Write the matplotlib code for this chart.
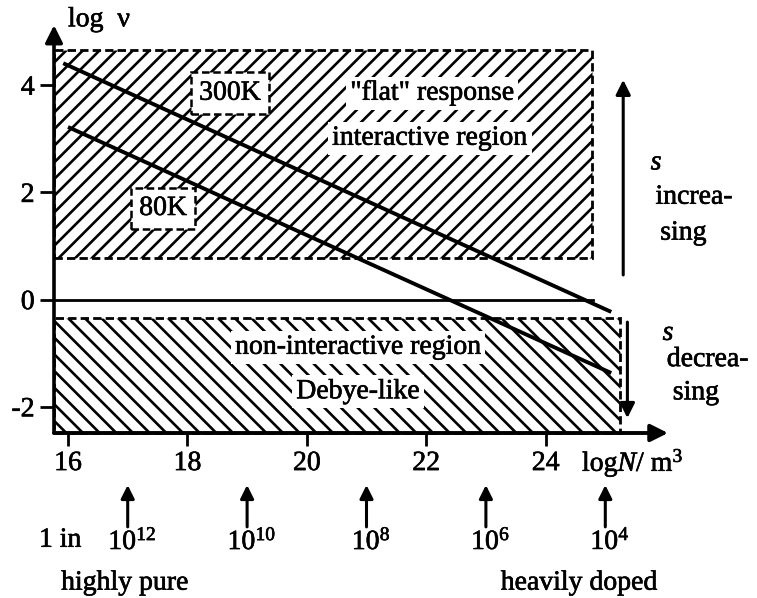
import matplotlib
matplotlib.use("Agg")
import matplotlib.pyplot as plt
from matplotlib.patches import Rectangle
import matplotlib.patheffects as pe

plt.rcParams['font.family'] = ['Liberation Serif', 'DejaVu Serif']
plt.rcParams['mathtext.fontset'] = 'custom'
plt.rcParams['mathtext.rm'] = 'Liberation Serif'
plt.rcParams['mathtext.it'] = 'Liberation Serif:italic'
plt.rcParams['hatch.linewidth'] = 1.9

# ---------------- data ----------------
x_ticks = [16, 18, 20, 22, 24]
y_ticks = [-2, 0, 2, 4]

line_300K_x = [15.92, 25.1]
line_300K_y = [4.41, -0.23]
line_80K_x = [16.0, 25.1]
line_80K_y = [3.22, -1.37]

# regions (x right edge, y bottom, y top)
upper_region = dict(x_right=24.78, y_bottom=0.776, y_top=4.655)
lower_region = dict(x_right=25.25, y_top=-0.343)
zero_line_end = 24.8

purity_x = [17, 19, 21, 23, 25]
purity_labels = [r'$10^{12}$', r'$10^{10}$', r'$10^{8}$', r'$10^{6}$', r'$10^{4}$']

# ---------------- layout ----------------
W, H = 757, 598
px_l, px_r, px_b, px_t = 54, 700, 433, 15
x0_px, x_scale = 68, 59.7     # x=16 at pixel 68
y0_px, y_scale = 299.6, 53.6  # y=0 at pixel 299.6
xl = 16 + (px_l - x0_px) / x_scale
xr = 16 + (px_r - x0_px) / x_scale
yb = (y0_px - px_b) / y_scale
yt = (y0_px - px_t) / y_scale

fig = plt.figure(figsize=(W / 100, H / 100), dpi=100)
ax = fig.add_axes([px_l / W, 1 - px_b / H, (px_r - px_l) / W, (px_b - px_t) / H])
ax.set_xlim(xl, xr)
ax.set_ylim(yb, yt)
for s in ax.spines.values():
    s.set_visible(False)

FS = 20
thick = [pe.withStroke(linewidth=0.45, foreground='black')]

def txt(x, y, s, **kw):
    kw.setdefault('fontsize', FS)
    kw.setdefault('clip_on', False)
    t = ax.text(x, y, s, **kw)
    t.set_path_effects(thick)
    return t

# hatched regions
ax.add_patch(Rectangle((xl, upper_region['y_bottom']), upper_region['x_right'] - xl,
                       upper_region['y_top'] - upper_region['y_bottom'],
                       facecolor='white', edgecolor='black', hatch='//',
                       linestyle=(0, (3, 1.5)), linewidth=2, zorder=1, clip_on=False))
ax.add_patch(Rectangle((xl, yb), lower_region['x_right'] - xl, lower_region['y_top'] - yb,
                       facecolor='white', edgecolor='black', hatch='\\\\',
                       linestyle=(0, (3, 1.5)), linewidth=2, zorder=1, clip_on=False))

# zero line
ax.plot([xl, zero_line_end], [0, 0], color='black', lw=2, zorder=3)

# temperature lines
ax.plot(line_300K_x, line_300K_y, color='black', lw=2.8, zorder=4, solid_capstyle='butt')
ax.plot(line_80K_x, line_80K_y, color='black', lw=2.8, zorder=4, solid_capstyle='butt')

# axes with arrows
ax.annotate('', xy=(xl, 5.12), xytext=(xl, yb),
            arrowprops=dict(arrowstyle='-|>', lw=2.6, mutation_scale=26, color='black',
                            shrinkA=0, shrinkB=0), annotation_clip=False, zorder=6)
ax.annotate('', xy=(26.05, yb), xytext=(xl, yb),
            arrowprops=dict(arrowstyle='-|>', lw=2.8, mutation_scale=26, color='black',
                            shrinkA=0, shrinkB=0), annotation_clip=False, zorder=6)

# ticks
ax.set_xticks(x_ticks)
ax.set_xticklabels([str(t) for t in x_ticks], fontsize=FS)
ax.set_yticks(y_ticks)
ax.set_yticklabels([str(t) for t in y_ticks], fontsize=FS)
ax.tick_params(axis='x', direction='out', length=9, width=2, pad=4)
ax.tick_params(axis='y', direction='out', length=10, width=2, pad=4)
for lab in ax.get_xticklabels() + ax.get_yticklabels():
    lab.set_path_effects(thick)

# axis labels
txt(16.0, 5.22, 'log  ν', ha='left', va='center')
txt(24.61, -3.05, r'log$N$/ m$^3$', ha='left', va='center')

# boxed temperature labels
box_kw = dict(boxstyle='square,pad=0.3', fc='white', ec='black', ls=(0, (3, 1.5)), lw=1.8)
txt(18.71, 3.85, '300K', ha='center', va='center', bbox=box_kw, zorder=5)
txt(17.59, 1.70, '80K', ha='center', va='center', bbox=box_kw, zorder=5)

# region labels
wb = dict(boxstyle='square,pad=0.15', fc='white', ec='none')
txt(22.10, 3.85, '"flat" response', ha='center', va='center', bbox=wb, zorder=5)
txt(22.06, 3.01, 'interactive region', ha='center', va='center', bbox=wb, zorder=5)
txt(20.86, -0.89, 'non-interactive region', ha='center', va='center', bbox=wb, zorder=5)
txt(20.86, -1.72, 'Debye-like', ha='center', va='center', bbox=wb, zorder=5)

# s increasing / decreasing arrows
ax.annotate('', xy=(25.30, 4.10), xytext=(25.30, 0.46),
            arrowprops=dict(arrowstyle='-|>', lw=2.2, mutation_scale=22, color='black',
                            shrinkA=0, shrinkB=0), annotation_clip=False)
ax.annotate('', xy=(25.37, -2.21), xytext=(25.37, -0.42),
            arrowprops=dict(arrowstyle='-|>', lw=2.2, mutation_scale=22, color='black',
                            shrinkA=0, shrinkB=0), annotation_clip=False)
txt(25.76, 2.55, 's', style='italic', ha='left', va='center')
txt(25.84, 1.91, 'increa-', ha='left', va='center')
txt(25.92, 1.24, 'sing', ha='left', va='center')
txt(25.96, -0.63, 's', style='italic', ha='left', va='center')
txt(26.03, -1.12, 'decrea-', ha='left', va='center')
txt(26.13, -1.74, 'sing', ha='left', va='center')

# purity arrows & labels
for xv, lab in zip(purity_x, purity_labels):
    ax.annotate('', xy=(xv, -3.46), xytext=(xv, -4.24),
                arrowprops=dict(arrowstyle='-|>', lw=2.2, mutation_scale=20, color='black',
                                shrinkA=0, shrinkB=0), annotation_clip=False)
    txt(xv + 0.08, -4.52, lab, ha='center', va='center')
txt(15.87, -4.49, '1 in', ha='center', va='center')
txt(16.95, -5.29, 'highly pure', ha='center', va='center')
txt(24.56, -5.29, 'heavily doped', ha='center', va='center')

fig.savefig('out.png', dpi=100)
